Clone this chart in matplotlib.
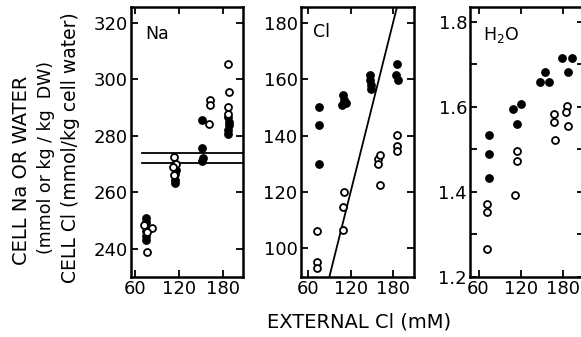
import matplotlib
matplotlib.use("Agg")
import matplotlib.pyplot as plt
from matplotlib.ticker import FixedLocator

plt.rcParams['font.family'] = ['DejaVu Sans']

# ---------------- data ----------------
# Na panel
na_filled_x = [75, 75, 75, 75, 75, 115, 116, 115, 114, 115, 151, 151, 152, 151, 187, 188, 188, 187, 187]
na_filled_y = [250.8, 249.4, 246.2, 244.5, 243.0, 270.0, 267.7, 266.3, 264.3, 263.3, 285.5, 275.5, 272.2, 271.0, 286.5, 285.0, 283.6, 282.0, 280.6]
na_open_x = [72, 83, 76, 76, 113, 116, 112, 113, 162, 162, 161, 187, 188, 186, 187]
na_open_y = [248.5, 247.5, 245.8, 238.8, 272.4, 270.0, 269.0, 266.0, 292.5, 291.0, 284.2, 305.3, 295.6, 290.0, 287.5]
na_lines_y = [274.0, 270.3]
na_lines_x = [69, 207]

# Cl panel
cl_filled_x = [75, 75, 75, 109, 111, 108, 113, 147, 148, 149, 149, 185, 184, 187]
cl_filled_y = [150.2, 143.7, 129.9, 154.2, 152.6, 151.0, 151.5, 161.3, 159.6, 157.9, 156.4, 165.4, 161.3, 159.7]
cl_open_x = [72, 72, 72, 110, 109, 109, 159, 162, 159, 161, 185, 185, 185]
cl_open_y = [106.1, 95.2, 92.9, 120.0, 114.8, 106.5, 131.5, 133.0, 129.8, 122.6, 140.2, 136.2, 134.5]
cl_line_x = [60, 210]
cl_line_y = [60, 210]

# H2O panel
w_filled_x = [75, 75, 75, 109, 120, 115, 147, 154, 160, 178, 192, 186]
w_filled_y = [1.533, 1.490, 1.432, 1.596, 1.606, 1.559, 1.659, 1.682, 1.659, 1.716, 1.716, 1.682]
w_open_x = [72, 72, 72, 114, 114, 112, 166, 166, 168, 185, 184, 186]
w_open_y = [1.371, 1.353, 1.267, 1.496, 1.473, 1.392, 1.583, 1.565, 1.523, 1.602, 1.588, 1.555]

x_ticks = [60, 120, 180]
na_yticks = [240, 260, 280, 300, 320]
cl_yticks = [100, 120, 140, 160, 180]
w_yticks = [1.2, 1.4, 1.6, 1.8]
w_yticks_minor = [1.3, 1.5, 1.7]
w_yticklabels = ['1.2', '1.4', '1.6', '1.8']

# ---------------- figure ----------------
W, H = 581, 337
fig = plt.figure(figsize=(W / 100, H / 100), dpi=100)

def rect(l, t, r, b):
    return [l / W, 1 - b / H, (r - l) / W, (b - t) / H]

ax1 = fig.add_axes(rect(131, 7, 243, 277))
ax2 = fig.add_axes(rect(301, 7, 414, 277))
ax3 = fig.add_axes(rect(470.5, 7, 584, 277))

ms = 5.3
mew = 1.3
FS = 13

def style(ax, xlim, ylim, yticks, ylabels=None, yminor=None):
    ax.set_xlim(*xlim)
    ax.set_ylim(*ylim)
    ax.set_xticks(x_ticks)
    ax.set_xticklabels([str(t) for t in x_ticks])
    ax.set_yticks(yticks)
    if ylabels is not None:
        ax.set_yticklabels(ylabels)
    if yminor is not None:
        ax.yaxis.set_minor_locator(FixedLocator(yminor))
    ax.tick_params(which='both', direction='in', length=5, width=1.3,
                   top=True, right=True, labelsize=FS, pad=2.5, colors='black')
    for s in ax.spines.values():
        s.set_linewidth(1.8)

def dots(ax, fx, fy, ox, oy):
    ax.plot(fx, fy, 'o', color='black', ms=ms, zorder=3, clip_on=False)
    ax.plot(ox, oy, 'o', mfc='white', mec='black', mew=mew, ms=ms - 0.3, zorder=4, clip_on=False)

# Na
for yv in na_lines_y:
    ax1.plot(na_lines_x, [yv, yv], color='black', lw=1.3, zorder=2)
dots(ax1, na_filled_x, na_filled_y, na_open_x, na_open_y)
style(ax1, (54.6, 207), (230, 325.5), na_yticks)
ax1.text(0.125, 0.935, 'Na', transform=ax1.transAxes, fontsize=12.5, va='top', ha='left')

# Cl
ax2.plot(cl_line_x, cl_line_y, color='black', lw=1.3, zorder=2)
dots(ax2, cl_filled_x, cl_filled_y, cl_open_x, cl_open_y)
style(ax2, (49.7, 209.7), (89.8, 185.6), cl_yticks)
ax2.text(0.105, 0.94, 'Cl', transform=ax2.transAxes, fontsize=12.5, va='top', ha='left')

# H2O
dots(ax3, w_filled_x, w_filled_y, w_open_x, w_open_y)
style(ax3, (48.7, 209), (1.2, 1.835), w_yticks, w_yticklabels, w_yticks_minor)
ax3.text(0.11, 0.935, 'H$_2$O', transform=ax3.transAxes, fontsize=12.5, va='top', ha='left')

# y label (three lines)
fig.text(22 / W, 1 - 170 / H, 'CELL Na OR WATER', rotation=90, fontsize=14,
         ha='center', va='center')
fig.text(46 / W, 1 - 157 / H, '(mmol or kg / kg  DW)', rotation=90, fontsize=12.5,
         ha='center', va='center')
fig.text(71 / W, 1 - 148 / H, 'CELL Cl (mmol/kg cell water)', rotation=90, fontsize=13.5,
         ha='center', va='center')

# x label
fig.text(359 / W, 1 - 322 / H, 'EXTERNAL Cl (mM)', fontsize=14, ha='center', va='center')

fig.savefig('out.png', dpi=100)
